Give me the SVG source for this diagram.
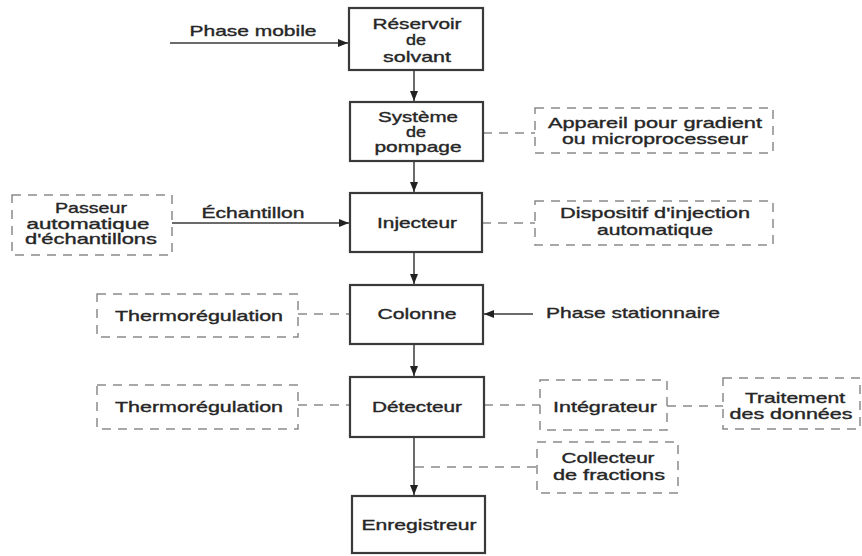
<svg xmlns="http://www.w3.org/2000/svg" width="862" height="556" viewBox="0 0 862 556">
<style>
text{font-family:"Liberation Sans",Arial,sans-serif;font-size:14.5px;fill:#262626;stroke:#262626;stroke-width:0.35;text-anchor:middle;}
.box{fill:#fff;stroke:#3a3a3a;stroke-width:2.2;}
.dbox{fill:none;stroke:#8a8a8a;stroke-width:1.5;stroke-dasharray:9 7;}
.ln{fill:none;stroke:#3a3a3a;stroke-width:1.5;}
.dl{fill:none;stroke:#8a8a8a;stroke-width:1.5;stroke-dasharray:9 7;}
</style>
<defs>
<marker id="ah" markerUnits="userSpaceOnUse" markerWidth="10" markerHeight="10" viewBox="0 0 10 10" refX="10" refY="5" orient="auto">
<path d="M0,1 L10,5 L0,9 Z" fill="#222"/>
</marker>
</defs>
<rect width="862" height="556" fill="#fff"/>
<g id="connectors">
<line class="ln" x1="170" y1="43" x2="348" y2="43" marker-end="url(#ah)"/>
<line class="ln" x1="414" y1="70" x2="414" y2="101" marker-end="url(#ah)"/>
<line class="ln" x1="414" y1="161" x2="414" y2="192" marker-end="url(#ah)"/>
<line class="ln" x1="414" y1="252" x2="414" y2="284" marker-end="url(#ah)"/>
<line class="ln" x1="414" y1="344" x2="414" y2="376" marker-end="url(#ah)"/>
<line class="ln" x1="414" y1="437" x2="414" y2="495" marker-end="url(#ah)"/>
<line class="ln" x1="172" y1="223" x2="349" y2="223" marker-end="url(#ah)"/>
<line class="ln" x1="533" y1="314" x2="484" y2="314" marker-end="url(#ah)"/>
<line class="dl" x1="483" y1="133" x2="535" y2="133"/>
<line class="dl" x1="482" y1="223" x2="535" y2="223"/>
<line class="dl" x1="298" y1="314" x2="350" y2="314"/>
<line class="dl" x1="298" y1="405" x2="350" y2="405"/>
<line class="dl" x1="484" y1="405" x2="540" y2="405"/>
<line class="dl" x1="667" y1="406" x2="723" y2="406"/>
<line class="dl" x1="415" y1="467" x2="537" y2="467"/>
<text x="253" y="36" textLength="127" lengthAdjust="spacingAndGlyphs">Phase mobile</text>
<text x="253" y="218" textLength="103" lengthAdjust="spacingAndGlyphs">Échantillon</text>
<text x="633" y="318" textLength="174" lengthAdjust="spacingAndGlyphs">Phase stationnaire</text>
</g>
<g id="reservoir">
<rect class="box" x="349" y="8" width="134" height="62"/>
<text x="417" y="29" textLength="89" lengthAdjust="spacingAndGlyphs">Réservoir</text>
<text x="416" y="45" textLength="20" lengthAdjust="spacingAndGlyphs">de</text>
<text x="417" y="62" textLength="68" lengthAdjust="spacingAndGlyphs">solvant</text>
</g>
<g id="pompage">
<rect class="box" x="350" y="102" width="133" height="59"/>
<text x="418" y="122" textLength="80" lengthAdjust="spacingAndGlyphs">Système</text>
<text x="416" y="137" textLength="20" lengthAdjust="spacingAndGlyphs">de</text>
<text x="418" y="152" textLength="87" lengthAdjust="spacingAndGlyphs">pompage</text>
</g>
<g id="gradient">
<rect class="dbox" x="535" y="108" width="238" height="45"/>
<text x="655" y="128" textLength="214" lengthAdjust="spacingAndGlyphs">Appareil pour gradient</text>
<text x="655" y="144" textLength="186" lengthAdjust="spacingAndGlyphs">ou microprocesseur</text>
</g>
<g id="passeur">
<rect class="dbox" x="12" y="195" width="160" height="60"/>
<text x="91" y="213" textLength="72" lengthAdjust="spacingAndGlyphs">Passeur</text>
<text x="88" y="229" textLength="123" lengthAdjust="spacingAndGlyphs">automatique</text>
<text x="91" y="244" textLength="132" lengthAdjust="spacingAndGlyphs">d'échantillons</text>
</g>
<g id="injecteur">
<rect class="box" x="350" y="193" width="132" height="59"/>
<text x="417" y="228" textLength="80" lengthAdjust="spacingAndGlyphs">Injecteur</text>
</g>
<g id="dispositif">
<rect class="dbox" x="535" y="201" width="238" height="44"/>
<text x="655" y="218" textLength="190" lengthAdjust="spacingAndGlyphs">Dispositif d'injection</text>
<text x="655" y="235" textLength="116" lengthAdjust="spacingAndGlyphs">automatique</text>
</g>
<g id="colonne">
<rect class="box" x="350" y="285" width="133" height="59"/>
<text x="417" y="319" textLength="79" lengthAdjust="spacingAndGlyphs">Colonne</text>
</g>
<g id="thermo1">
<rect class="dbox" x="97" y="294" width="201" height="43"/>
<text x="199" y="321" textLength="168" lengthAdjust="spacingAndGlyphs">Thermorégulation</text>
</g>
<g id="detecteur">
<rect class="box" x="350" y="377" width="134" height="60"/>
<text x="417" y="412" textLength="90" lengthAdjust="spacingAndGlyphs">Détecteur</text>
</g>
<g id="thermo2">
<rect class="dbox" x="97" y="385" width="201" height="44"/>
<text x="199" y="412" textLength="168" lengthAdjust="spacingAndGlyphs">Thermorégulation</text>
</g>
<g id="integrateur">
<rect class="dbox" x="540" y="380" width="127" height="50"/>
<text x="605" y="412" textLength="104" lengthAdjust="spacingAndGlyphs">Intégrateur</text>
</g>
<g id="traitement">
<rect class="dbox" x="723" y="378" width="137" height="51"/>
<text x="795" y="403" textLength="100" lengthAdjust="spacingAndGlyphs">Traitement</text>
<text x="791" y="419" textLength="123" lengthAdjust="spacingAndGlyphs">des données</text>
</g>
<g id="collecteur">
<rect class="dbox" x="537" y="442" width="141" height="51"/>
<text x="608" y="463" textLength="93" lengthAdjust="spacingAndGlyphs">Collecteur</text>
<text x="609" y="480" textLength="112" lengthAdjust="spacingAndGlyphs">de fractions</text>
</g>
<g id="enregistreur">
<rect class="box" x="352" y="496" width="133" height="57"/>
<text x="419" y="530" textLength="115" lengthAdjust="spacingAndGlyphs">Enregistreur</text>
</g>
</svg>
